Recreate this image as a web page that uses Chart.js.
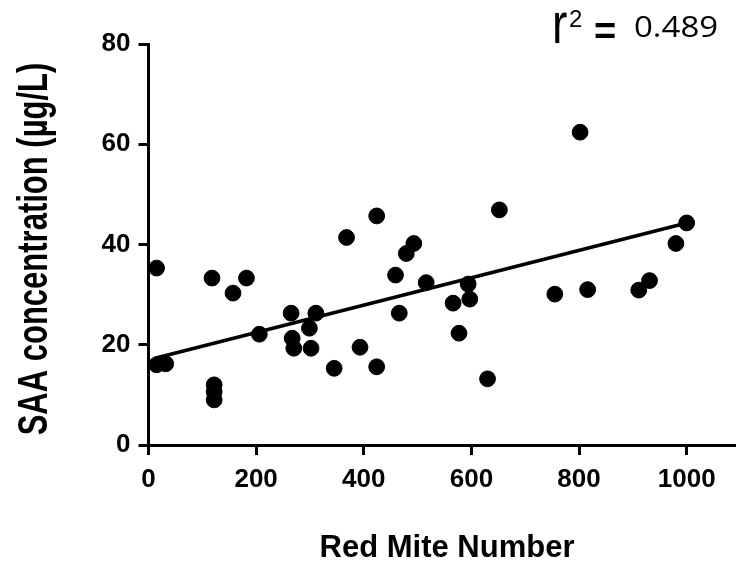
<!DOCTYPE html>
<html>
<head>
<meta charset="utf-8">
<script src="https://cdn.jsdelivr.net/npm/chart.js@4"></script>
<style>
html,body{margin:0;padding:0;background:#fff;}
#wrap{width:744px;height:571px;position:relative;}
</style>
</head>
<body>
<div id="wrap"><canvas id="c" width="744" height="571"></canvas></div>
<script>
// Data
const miteNumber = [15, 15, 32, 118, 157, 182, 122, 122, 122, 206, 265, 267, 270, 311, 299, 302, 345, 368, 393, 424, 424,
                    652, 802, 1000, 980, 493, 479, 459, 516, 466, 594, 597, 566, 577, 630, 755, 816, 911, 931];
const saaConc    = [35.3, 16.0, 16.2, 33.3, 30.3, 33.3, 12.0, 10.6, 9.0, 22.1, 26.3, 21.3, 19.3, 26.3, 23.3, 19.3, 15.3, 41.4, 19.5, 45.7, 15.6,
                    46.9, 62.4, 44.3, 40.2, 40.2, 38.2, 33.9, 32.4, 26.3, 32.1, 29.1, 28.3, 22.3, 13.2, 30.1, 31.0, 30.9, 32.8];
const fitX = [12, 1000];
const fitY = [17.3, 44.3];
const xTicks = [0, 200, 400, 600, 800, 1000];
const yTicks = [0, 20, 40, 60, 80];
const xTitle = 'Red Mite Number';
const yTitle = 'SAA concentration (µg/L)';
const rSquared = '0.489';

const points = miteNumber.map((x, i) => ({x: x, y: saaConc[i]}));
const fitLine = fitX.map((x, i) => ({x: x, y: fitY[i]}));

const textPlugin = {
  id: 'texts',
  afterDraw(chart) {
    const ctx = chart.ctx;
    ctx.save();
    ctx.fillStyle = '#000';
    // y title (rotated, slightly tall glyphs)
    ctx.save();
    ctx.translate(47, 249);
    ctx.rotate(-Math.PI / 2);
    ctx.scale(1, 1.38);
    ctx.font = 'bold 31px "Liberation Sans", Arial, sans-serif';
    ctx.textAlign = 'center';
    ctx.textBaseline = 'alphabetic';
    ctx.fillText(yTitle, 0, 0);
    ctx.restore();
    // x title
    ctx.font = 'bold 31px "Liberation Sans", Arial, sans-serif';
    ctx.textAlign = 'center';
    ctx.textBaseline = 'alphabetic';
    ctx.fillText(xTitle, 447, 557);
    // r^2 label
    ctx.textAlign = 'left';
    ctx.save();
    ctx.translate(552, 43);
    ctx.scale(1.05, 1.32);
    ctx.font = '44px "Liberation Sans", Arial, sans-serif';
    ctx.fillText('r', 0, 0);
    ctx.restore();
    ctx.font = '24px "Liberation Sans", Arial, sans-serif';
    ctx.fillText('2', 569, 27);
    ctx.font = 'bold 38px "Liberation Sans", Arial, sans-serif';
    ctx.fillText('=', 594, 44);
    ctx.save();
    ctx.translate(634, 37);
    ctx.scale(1, 0.9);
    ctx.font = '33px "Open Sans", sans-serif';
    ctx.fillText(rSquared, 0, 0);
    ctx.restore();
    ctx.restore();
  }
};

const tickFont = {family: '"Liberation Sans", Arial, sans-serif', size: 26, weight: 'bold'};

new Chart(document.getElementById('c'), {
  type: 'scatter',
  data: {
    datasets: [
      {
        data: points,
        backgroundColor: '#000',
        borderColor: '#000',
        pointRadius: 7.9,
        pointHoverRadius: 7.9,
        clip: false
      },
      {
        type: 'line',
        data: fitLine,
        borderColor: '#000',
        borderWidth: 3.5,
        pointRadius: 0,
        fill: false,
        clip: false
      }
    ]
  },
  options: {
    responsive: false,
    animation: false,
    events: [],
    layout: {padding: {left: 0, right: 0, top: 44, bottom: 0}},
    plugins: {legend: {display: false}, tooltip: {enabled: false}},
    scales: {
      x: {
        type: 'linear',
        min: 0,
        max: 1090,
        afterBuildTicks: s => { s.ticks = xTicks.map(v => ({value: v})); },
        afterFit: s => { s.height = 126; },
        border: {display: true, color: '#000', width: 3},
        grid: {drawOnChartArea: false, drawTicks: true, tickLength: 10, tickWidth: 3, tickColor: '#000'},
        ticks: {color: '#000', font: tickFont, padding: 9, maxRotation: 0, autoSkip: false,
                callback: v => String(v)}
      },
      y: {
        type: 'linear',
        min: 0,
        max: 80,
        afterBuildTicks: s => { s.ticks = yTicks.map(v => ({value: v})); },
        afterFit: s => { s.width = 148.5; },
        border: {display: true, color: '#000', width: 3},
        grid: {drawOnChartArea: false, drawTicks: true, tickLength: 10, tickWidth: 3, tickColor: '#000'},
        ticks: {color: '#000', font: tickFont, padding: 8, autoSkip: false,
                callback: v => String(v)}
      }
    }
  },
  plugins: [textPlugin]
});
</script>
</body>
</html>
